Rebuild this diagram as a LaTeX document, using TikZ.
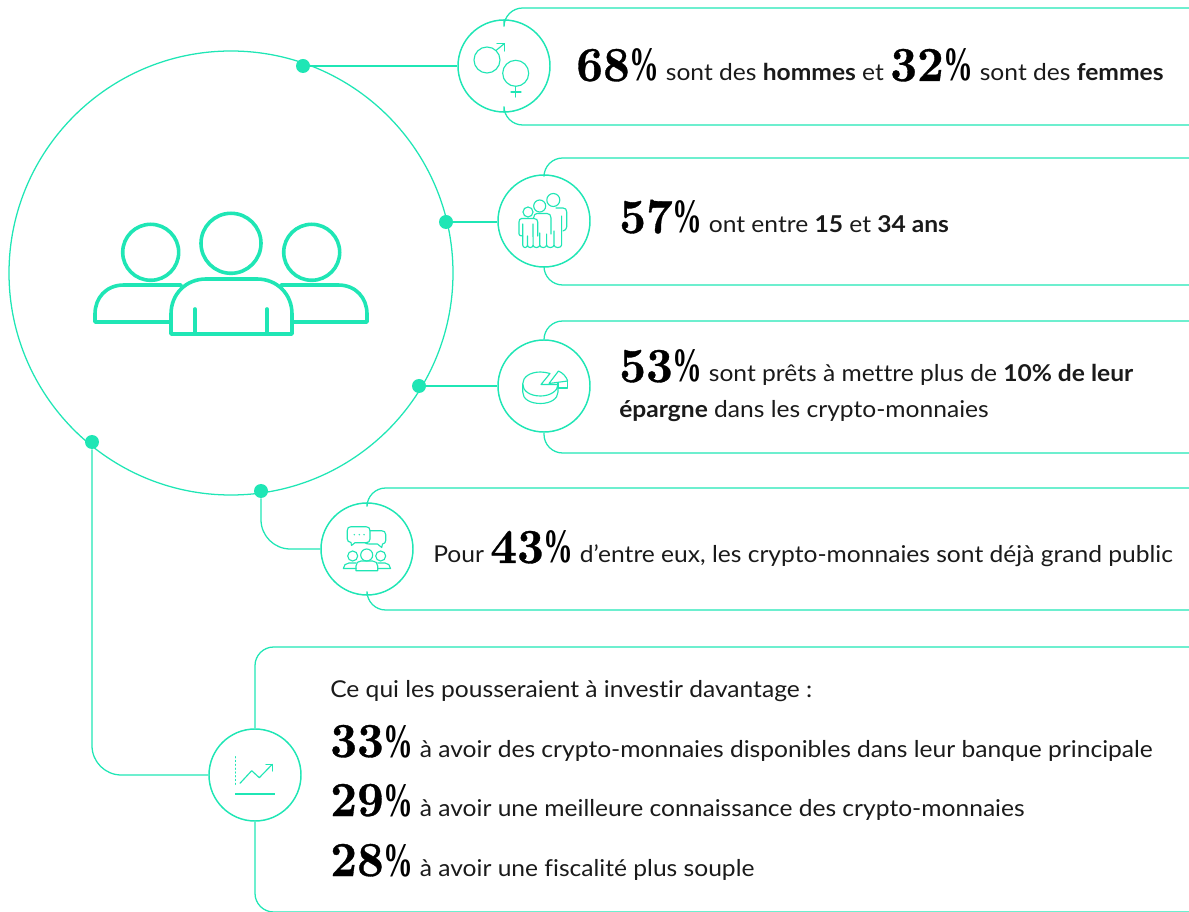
\documentclass[tikz,border=0pt]{standalone}
\usepackage{fontspec}
\usepackage{graphicx}
\setmainfont{Lato}[FakeStretch=1.06,Ligatures=NoCommon]
\newfontfamily\numfont{lmroman10-bold.otf}[FakeBold=0.7]
\newfontfamily\pctfont{Liberation Serif Bold}
\definecolor{mint}{HTML}{1FE6B5}
\definecolor{ink}{HTML}{1A1A1A}
\newcommand{\pct}[1]{{\color{black}\scalebox{0.95}[1]{\fontsize{36.75}{40}\numfont #1}\scalebox{0.62}[1]{\fontsize{36}{40}\pctfont\%}}}
\tikzset{
  thin line/.style={draw=mint,line width=0.95pt},
  badge/.style={circle,draw=mint,line width=1.1pt,fill=white,minimum size=69pt,inner sep=0pt},
  dot/.style={circle,fill=mint,minimum size=10.5pt,inner sep=0pt},
  ico/.style={draw=mint,line width=0.85pt,line join=round,line cap=round},
  bigico/.style={draw=mint,line width=2.7pt,line join=round,line cap=round},
  label/.style={anchor=base west,inner sep=0pt,font=\fontsize{17.4}{20}\selectfont,text=ink},
}
\begin{document}
\begin{tikzpicture}[x=0.75pt,y=-0.75pt]
\useasboundingbox (0,0) rectangle (1189,912);
% right ends of cards
\coordinate (t1) at (1189,8);   \coordinate (b1) at (1189,125);
\coordinate (t2) at (1189,158); \coordinate (b2) at (1189,285);
\coordinate (t3) at (1189,321); \coordinate (b3) at (1189,453);
\coordinate (t4) at (1189,488); \coordinate (b4) at (1189,610);
\coordinate (t5) at (1189,647); \coordinate (b5) at (1189,912);
% main circle
\node[circle,draw=mint,line width=0.95pt,minimum size=333pt,inner sep=0pt] (main) at (231,273) {};
% badges
\node[badge] (c1) at (504,66) {};
\node[badge] (c2) at (544,221) {};
\node[badge] (c3) at (544,386) {};
\node[badge] (c4) at (367,549) {};
\node[badge] (c5) at (255,775) {};
% dots
\node[dot] (d1) at (303,66) {};
\node[dot] (d2) at (446,222) {};
\node[dot] (d3) at (419,386) {};
\node[dot] (d4) at (261,491) {};
\node[dot] (d5) at (92,442) {};
% connectors
\draw[thin line] (d1) -- (c1.west);
\draw[thin line] (d2) -- (d2 -| c2.west);
\draw[thin line] (d3) -- (c3.west);
\draw[thin line,rounded corners=22] (d4) |- (c4.west);
\draw[thin line,rounded corners=22] (d5) |- (c5.west);
\draw[thin line,rounded corners=14] (c1.north) |- (t1);
\draw[thin line,rounded corners=14] (c1.south) |- (b1);
\draw[thin line,rounded corners=14] (c2.north) |- (t2);
\draw[thin line,rounded corners=14] (c2.south) |- (b2);
\draw[thin line,rounded corners=14] (c3.north) |- (t3);
\draw[thin line,rounded corners=14] (c3.south) |- (b3);
\draw[thin line,rounded corners=14] (c4.north) |- (t4);
\draw[thin line,rounded corners=14] (c4.south) |- (b4);
\draw[thin line,rounded corners=14] (c5.north) |- (t5);
\draw[thin line,rounded corners=14] (c5.south) |- (b5);
% main people icon
\draw[bigico] (150.7,252.3) circle (28);
\draw[bigico] (231,243.3) circle (30);
\draw[bigico] (311.7,252.3) circle (28);
\draw[bigico] (181,285) -- (124,285) .. controls (106,285) and (95,298) .. (95,314) -- (95,322) -- (171,322);
\draw[bigico] (281,285) -- (338,285) .. controls (356,285) and (367,298) .. (367,314) -- (367,322) -- (292,322);
\draw[bigico,fill=white] (171,334) -- (171,314) .. controls (171,294) and (186,279) .. (206,279) -- (257,279) .. controls (277,279) and (292,294) .. (292,314) -- (292,334) -- cycle;
\draw[bigico] (195,309) -- (195,334);
\draw[bigico] (267,309) -- (267,334);
% gender icon
\draw[ico] (487,60) circle (13);
\draw[ico] (496,50.5) -- (504.5,43.5);
\draw[ico] (497,43.5) -- (504.5,43.5) -- (504.5,51);
\draw[ico] (515.7,73.3) circle (13);
\draw[ico] (515.7,86.3) -- (515.7,97);
\draw[ico] (511,92) -- (521,92);
% family icon
\draw[ico] (553.3,200) circle (6.5);
\draw[ico] (539.7,206) circle (6);
\draw[ico] (528,212) circle (5);
\draw[ico] (556,208) -- (563,208) .. controls (565.5,208) and (566.7,209.5) .. (566.7,212) -- (566.7,227) .. controls (566.7,229) and (565,230.5) .. (563,231);
\draw[ico] (533.5,218) .. controls (534,215) and (535,213.5) .. (537,213.5) -- (547,213.5) .. controls (549.5,213.5) and (551,215) .. (551,218) -- (551,234);
\draw[ico] (521.5,218.5) -- (534,218.5) .. controls (536.5,218.5) and (537.7,220) .. (537.7,222) -- (537.7,236);
\draw[ico] (521.5,218.5) .. controls (520,218.5) and (519,220) .. (519,222) -- (519,234) .. controls (519,235.5) and (520.5,236) .. (522.7,236);
\draw[ico] (522.7,224) -- (522.7,245) arc[start angle=180,end angle=0,x radius=2.4,y radius=2.6]
 -- (527.5,236) (527.5,245) arc[start angle=180,end angle=0,x radius=2.8,y radius=2.6]
 -- (533,224) (533,245) arc[start angle=180,end angle=0,x radius=3.4,y radius=2.6]
 -- (539.8,233) (539.8,245) arc[start angle=180,end angle=0,x radius=3.4,y radius=2.6]
 -- (546.6,234) (546.6,245) arc[start angle=180,end angle=0,x radius=3.7,y radius=2.6]
 -- (554,231) (554,245) arc[start angle=180,end angle=0,x radius=3.8,y radius=2.6]
 -- (561.6,216);
% pie icon
\draw[ico] (550,373.5) .. controls (546,372.5) and (543,372) .. (540.5,372) .. controls (530,372) and (522.7,377) .. (522.7,384) .. controls (522.7,391) and (530,396) .. (540.5,396) .. controls (550,396) and (558,391) .. (558,384.5) -- (541,384.5) -- cycle;
\draw[ico] (522.7,384) -- (522.7,392) .. controls (522.7,399) and (530,403.5) .. (540.5,403.5) .. controls (550,403.5) and (558,399) .. (558,392) -- (558,384.5);
\draw[ico] (549,383.5) -- (558.5,371) .. controls (563,373) and (566.5,377) .. (567.7,381) -- cycle;
\draw[ico] (558,383) -- (558,388) -- (567.7,388) -- (567.7,381);
% chat + people icon
\draw[ico] (351,526.7) -- (366,526.7) .. controls (368.5,526.7) and (370,528) .. (370,530.5) -- (370,539) .. controls (370,541.5) and (368.5,542.7) .. (366,542.7) -- (355,542.7) -- (351.5,545.5) -- (351,542.5) .. controls (348.5,542) and (347.3,541) .. (347.3,539) -- (347.3,530.5) .. controls (347.3,528) and (348.5,526.7) .. (351,526.7) -- cycle;
\draw[ico] (370,530.7) -- (381.5,530.7) .. controls (384,530.7) and (385.7,532) .. (385.7,534.5) -- (385.7,540.5) .. controls (385.7,542.5) and (384.5,543.7) .. (382.5,544) -- (381.7,547.5) -- (377.5,544) -- (369,544) .. controls (367,544) and (366,543.5) .. (365,542.7);
\foreach \xx in {354.3,359.3,364} \fill[mint] (\xx,534.7) circle (0.8);
\draw[ico] (352.7,556) circle (5);
\draw[ico] (366.7,555) circle (6);
\draw[ico] (380.7,556) circle (5);
\draw[ico] (356,563) -- (349,563) .. controls (346,563) and (343.3,565.5) .. (343.3,568.5) -- (356,568.5);
\draw[ico] (377.7,563) -- (385,563) .. controls (388,563) and (390.5,565.5) .. (390.5,568.5) -- (377.7,568.5);
\draw[ico] (356,570.7) -- (356,566) .. controls (356,563) and (358,561) .. (361,561) -- (372.5,561) .. controls (375.5,561) and (377.7,563) .. (377.7,566) -- (377.7,570.7) -- cycle;
% chart icon
\draw[ico,dotted] (235.3,756.7) -- (235.3,786.7);
\draw[draw=mint,line width=1.2pt] (235,794) -- (275,794);
\draw[ico] (240,783.3) -- (251.7,770.7) -- (259.3,777.7) -- (272.3,764.3);
\draw[ico] (266,764.3) -- (272.3,764.3) -- (272.3,771);
% texts
\node[label] (l1) at (576,81) {\pct{68} sont des \textbf{hommes} et \pct{32} sont des \textbf{femmes}};
\node[label] (l2) at (619,233) {\pct{57} ont entre \textbf{15} et \textbf{34 ans}};
\node[label] (l3a) at (619,382) {\pct{53} sont prêts à mettre plus de \textbf{10\% de leur}};
\node[label] (l3b) at (619,418) {\textbf{épargne} dans les crypto-monnaies};
\node[label] (l4) at (433,563) {Pour \pct{43} d’entre eux, les crypto-monnaies sont déjà grand public};
\node[label] (l5) at (330,697) {Ce qui les pousseraient à investir davantage :};
\node[label] (l6) at (330,757) {\pct{33} à avoir des crypto-monnaies disponibles dans leur banque principale};
\node[label] (l7) at (330,816) {\pct{29} à avoir une meilleure connaissance des crypto-monnaies};
\node[label] (l8) at (330,876) {\pct{28} à avoir une fiscalité plus souple};
\end{tikzpicture}
\end{document}
